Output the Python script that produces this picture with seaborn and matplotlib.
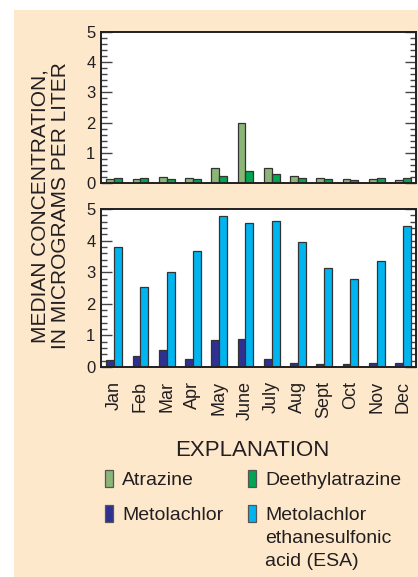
import matplotlib
matplotlib.use("Agg")
import matplotlib.pyplot as plt
import pandas as pd
import seaborn as sns
from matplotlib.patches import Rectangle
from matplotlib.ticker import MultipleLocator

months = ["Jan", "Feb", "Mar", "Apr", "May", "June", "July", "Aug", "Sept", "Oct", "Nov", "Dec"]
atrazine = [0.13, 0.13, 0.19, 0.15, 0.49, 1.99, 0.51, 0.24, 0.15, 0.13, 0.13, 0.11]
deethylatrazine = [0.15, 0.15, 0.13, 0.13, 0.22, 0.40, 0.30, 0.18, 0.13, 0.11, 0.15, 0.18]
metolachlor = [0.22, 0.34, 0.53, 0.26, 0.86, 0.89, 0.26, 0.12, 0.09, 0.09, 0.12, 0.12]
esa = [3.81, 2.53, 3.02, 3.66, 4.79, 4.57, 4.62, 3.95, 3.14, 2.78, 3.34, 4.45]

colors = {"Atrazine": "#8cb677", "Deethylatrazine": "#00a650",
          "Metolachlor": "#2e3192", "ESA": "#00b5ef"}
text_color = "#231f20"
peach = "#fde8cc"

top_df = pd.DataFrame({"month": months * 2,
                       "value": atrazine + deethylatrazine,
                       "compound": ["Atrazine"] * 12 + ["Deethylatrazine"] * 12})
bot_df = pd.DataFrame({"month": months * 2,
                       "value": metolachlor + esa,
                       "compound": ["Metolachlor"] * 12 + ["ESA"] * 12})

sns.set_style("ticks")
plt.rcParams["font.family"] = ["Liberation Sans", "DejaVu Sans"]
plt.rcParams["text.color"] = text_color

W, H = 418, 577
fig = plt.figure(figsize=(W / 100, H / 100), dpi=100, facecolor="white")
# peach panel background, behind the axes
fig.patches.append(Rectangle((14 / W, 0), 1 - 14 / W, 1 - 10 / H, transform=fig.transFigure,
                             facecolor=peach, edgecolor="none", zorder=-5))


def px_axes(left, top, right, bottom):
    return fig.add_axes([left / W, 1 - bottom / H, (right - left) / W, (bottom - top) / H])


ax1 = px_axes(101, 32, 416, 183)
ax2 = px_axes(101, 209, 416, 367)

for ax, df in [(ax1, top_df), (ax2, bot_df)]:
    sns.barplot(data=df, x="month", y="value", hue="compound", palette=colors,
                width=0.6, gap=0, edgecolor="#333333", linewidth=0.9,
                saturation=1, legend=False, ax=ax)
    ax.set_ylim(0, 5)
    ax.set_xlim(-0.5, 11.5)
    ax.set_facecolor("white")
    ax.yaxis.set_major_locator(MultipleLocator(1))
    ax.yaxis.set_minor_locator(MultipleLocator(0.2))
    ax.tick_params(axis="y", which="both", direction="in", left=True, right=True,
                   colors="#444444", labelcolor=text_color, labelsize=12, pad=4)
    ax.tick_params(axis="y", which="major", length=8, width=1)
    ax.tick_params(axis="y", which="minor", length=4.5, width=1)
    ax.tick_params(axis="x", length=0)
    ax.set_xlabel("")
    ax.set_ylabel("")
    for s in ax.spines.values():
        s.set_visible(True)
        s.set_color("#231f20")
        s.set_linewidth(1.4)

ax1.set_xticklabels([])
ax2.set_xticks(range(12))
ax2.set_xticklabels(months, rotation=90, fontsize=13, color=text_color)
ax2.tick_params(axis="x", pad=10)

fig.text(50 / W, 1 - 206 / H, "MEDIAN CONCENTRATION,\nIN MICROGRAMS PER LITER",
         rotation=90, ha="center", va="center", multialignment="center",
         fontsize=15, linespacing=1.1)

# explanation (legend)
fig.text(252 / W, 1 - 451 / H, "EXPLANATION", ha="center", va="center", fontsize=16)
entries = [("Atrazine", 105, 470), ("Deethylatrazine", 248, 470),
           ("Metolachlor", 105, 505), ("ESA", 248, 505)]
labels = {"Atrazine": "Atrazine", "Deethylatrazine": "Deethylatrazine",
          "Metolachlor": "Metolachlor", "ESA": "Metolachlor\nethanesulfonic\nacid (ESA)"}
for name, x, y in entries:
    fig.patches.append(Rectangle((x / W, 1 - (y + 17) / H), 8 / W, 17 / H,
                                 transform=fig.transFigure, facecolor=colors[name],
                                 edgecolor="#555555", linewidth=0.9))
    fig.text((x + 17) / W, 1 - (y + 2) / H, labels[name], ha="left", va="top",
             fontsize=14, linespacing=1.45)

fig.savefig("out.png", dpi=100, facecolor="white")
